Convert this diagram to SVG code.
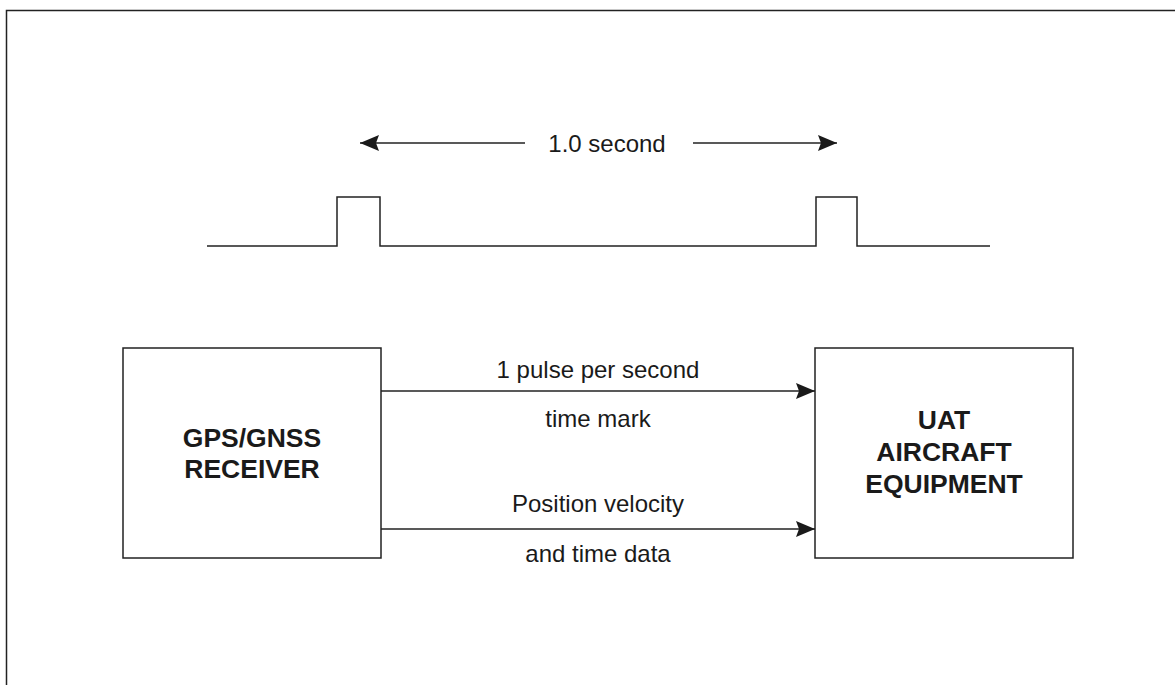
<svg xmlns="http://www.w3.org/2000/svg" width="1175" height="685" viewBox="0 0 1175 685">
<defs>
<style>
.ln{fill:none;stroke:#222;stroke-width:1.5}
.bx{fill:#fff;stroke:#222;stroke-width:1.5}
.lbl{font-family:"Liberation Sans",Arial,sans-serif;font-size:24px;fill:#1a1a1a;text-anchor:middle}
.ttl{font-family:"Liberation Sans",Arial,sans-serif;font-size:26.5px;font-weight:bold;fill:#1a1a1a;text-anchor:middle}
</style>
<marker id="ah" markerUnits="userSpaceOnUse" markerWidth="20" markerHeight="18" refX="19" refY="9" orient="auto-start-reverse" viewBox="0 0 20 18">
<path d="M19,9 L0,1 L3,9 L0,17 Z" fill="#1a1a1a"/>
</marker>
</defs>
<rect width="1175" height="685" fill="#fff"/>
<path class="ln" d="M6.5,685 V10.5 H1175" stroke="#333" stroke-width="2"/>
<g id="timing">
<path class="ln" d="M525,143 H360" marker-end="url(#ah)"/>
<path class="ln" d="M693,143 H837" marker-end="url(#ah)"/>
<text class="lbl" x="607" y="152">1.0 second</text>
<path class="ln" d="M207,246 H337 V197 H380 V246 H816 V197 H857 V246 H990"/>
</g>
<g id="gps">
<rect class="bx" x="123" y="348" width="258" height="210"/>
<text class="ttl" x="252" y="447">GPS/GNSS</text>
<text class="ttl" x="252" y="478">RECEIVER</text>
</g>
<g id="uat">
<rect class="bx" x="815" y="348" width="258" height="210"/>
<text class="ttl" x="944" y="429">UAT</text>
<text class="ttl" x="944" y="461">AIRCRAFT</text>
<text class="ttl" x="944" y="493">EQUIPMENT</text>
</g>
<g id="connectors">
<path class="ln" d="M381,391 H815" marker-end="url(#ah)"/>
<path class="ln" d="M381,529 H815" marker-end="url(#ah)"/>
<text class="lbl" x="598" y="378">1 pulse per second</text>
<text class="lbl" x="598" y="427">time mark</text>
<text class="lbl" x="598" y="512">Position velocity</text>
<text class="lbl" x="598" y="562">and time data</text>
</g>
</svg>
